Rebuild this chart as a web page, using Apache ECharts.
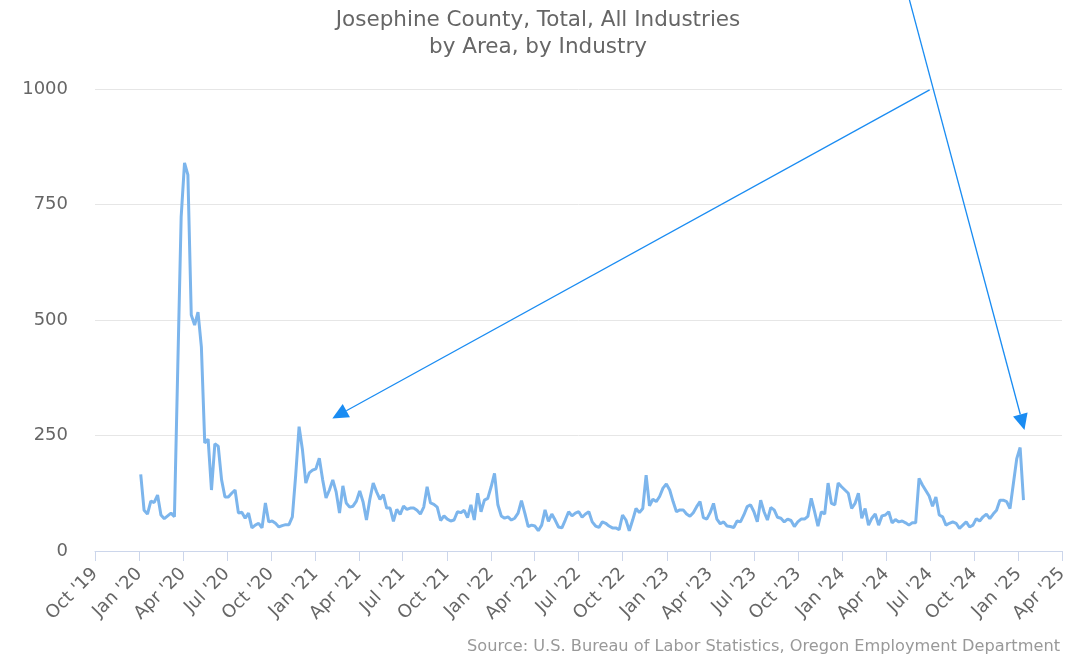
<!DOCTYPE html>
<html>
<head>
<meta charset="utf-8">
<script src="https://cdn.jsdelivr.net/npm/echarts@6/dist/echarts.min.js"></script>
<style>
html,body{margin:0;padding:0;background:#fff;}
#chart{width:1076px;height:657px;}
</style>
</head>
<body>
<div id="chart"></div>
<script>
// Weekly initial claims, first week ending 2020-01-04
const firstWeekEnding = '2020-01-04';
const claims2020a = [166, 88, 80, 108, 105, 121, 78, 70, 76, 82, 74, 400, 723, 840, 814, 511, 489, 517, 442, 234, 242, 132, 232, 227, 154, 117, 117, 125, 132, 82, 84, 71, 82, 50, 56, 60, 50, 104, 63, 65, 60, 52, 55];
const claims2020b = [57, 57, 74, 165, 269, 219, 147, 169, 175, 178, 201, 154, 115, 132, 154, 128, 82, 141, 104, 95, 97, 108, 130, 106, 67, 112, 147, 128, 112, 122, 93, 93, 64, 90, 79, 97, 90, 93, 93, 88, 80, 95, 139, 104, 101, 95, 66];
const claims2021 = [76, 69, 65, 67, 85, 83, 88, 72, 100, 67, 125, 85, 110, 114, 139, 168, 100, 76, 71, 74, 67, 71, 82, 109, 82, 53, 56, 54, 44, 56, 89, 64, 80, 67, 52, 50, 67, 85, 76, 82, 85, 73, 80, 85];
const claims2022 = [63, 54, 51, 63, 60, 54, 50, 50, 46, 78, 67, 44, 67, 92, 83, 92, 164, 98, 112, 107, 118, 136, 145, 132, 107, 85, 89, 89, 80, 75, 83, 96, 107, 72, 69, 83, 103, 69, 59, 63, 54, 53, 51, 65, 63];
const claims2023 = [78, 96, 100, 85, 63, 110, 85, 67, 94, 89, 73, 71, 63, 69, 66, 53, 63, 69, 69, 75, 114, 85, 54, 85, 80, 147, 103, 100, 147, 139, 132, 125, 92, 103, 125, 71, 92, 56, 71, 80, 56, 76, 78, 85];
const claims2024 = [61, 68, 63, 65, 61, 56, 61, 61, 157, 143, 131, 119, 97, 117, 78, 74, 56, 60, 63, 60, 49, 56, 63, 52, 56, 70, 65, 74, 80, 70, 80, 88, 110, 110, 107, 92, 146, 200, 224, 110];

const tickDates = ['2019-10-01','2020-01-01','2020-04-01','2020-07-01','2020-10-01','2021-01-01','2021-04-01','2021-07-01','2021-10-01','2022-01-01','2022-04-01','2022-07-01','2022-10-01','2023-01-01','2023-04-01','2023-07-01','2023-10-01','2024-01-01','2024-04-01','2024-07-01','2024-10-01','2025-01-01','2025-04-01'];
const yTicks = [0, 250, 500, 750, 1000];
const monthNames = ['Jan','Feb','Mar','Apr','May','Jun','Jul','Aug','Sep','Oct','Nov','Dec'];

const titleText = 'Josephine County, Total, All Industries\nby Area, by Industry';
const sourceText = 'Source: U.S. Bureau of Labor Statistics, Oregon Employment Department';

// annotation arrows in data coordinates: [fromDate, fromValue, toDate, toValue]
const arrows = [
  ['2024-06-30', 998, '2021-02-05', 287],
  ['2024-05-19', 1193, '2025-01-13', 262]
];

function parseDate(s) {
  const p = s.split('-').map(Number);
  return new Date(p[0], p[1] - 1, p[2]).getTime();
}

const allClaims = [].concat(claims2020a, claims2020b, claims2021, claims2022, claims2023, claims2024);
const fp = firstWeekEnding.split('-').map(Number);
const seriesData = allClaims.map((v, i) => [new Date(fp[0], fp[1] - 1, fp[2] + 7 * i).getTime(), v]);
const tickValues = tickDates.map(parseDate);

const FONT = 'DejaVu Sans';
const chart = echarts.init(document.getElementById('chart'));
chart.setOption({
  animation: false,
  backgroundColor: '#ffffff',
  title: {
    text: titleText,
    left: 'center',
    top: 2,
    textStyle: { fontFamily: FONT, fontSize: 21.5, fontWeight: 'normal', color: '#666666', lineHeight: 27 }
  },
  grid: { left: 95, right: 14, top: 89, bottom: 106 },
  xAxis: {
    type: 'value',
    min: tickValues[0],
    max: tickValues[tickValues.length - 1],
    axisLine: { show: true, lineStyle: { color: '#ccd6eb', width: 1 } },
    axisTick: { show: true, length: 10, lineStyle: { color: '#ccd6eb' }, customValues: tickValues },
    splitLine: { show: false },
    axisLabel: {
      customValues: tickValues,
      rotate: 45,
      margin: 20,
      fontFamily: FONT,
      fontSize: 18,
      color: '#666666',
      hideOverlap: false,
      formatter: function (val) {
        const d = new Date(val);
        return monthNames[d.getMonth()] + " '" + String(d.getFullYear()).slice(2);
      }
    }
  },
  yAxis: {
    type: 'value',
    min: yTicks[0],
    max: yTicks[yTicks.length - 1],
    interval: yTicks[1] - yTicks[0],
    axisLine: { show: false },
    axisTick: { show: false },
    splitLine: { lineStyle: { color: '#e6e6e6', width: 1 } },
    axisLabel: { fontFamily: FONT, fontSize: 18, color: '#666666', margin: 27, formatter: v => String(v) }
  },
  series: [{
    type: 'line',
    data: seriesData,
    showSymbol: false,
    smooth: false,
    lineStyle: { color: '#7cb5ec', width: 3 },
    itemStyle: { color: '#7cb5ec' },
    clip: false
  }]
});

const graphics = [{
  type: 'text',
  right: 16,
  bottom: 2,
  style: { text: sourceText, font: '16.2px "DejaVu Sans"', fill: '#999999' }
}];
arrows.forEach(a => {
  const p0 = chart.convertToPixel({ gridIndex: 0 }, [parseDate(a[0]), a[1]]);
  const p1 = chart.convertToPixel({ gridIndex: 0 }, [parseDate(a[2]), a[3]]);
  const dx = p1[0] - p0[0], dy = p1[1] - p0[1];
  const len = Math.sqrt(dx * dx + dy * dy);
  const ux = dx / len, uy = dy / len;
  const headLen = 16, halfW = 7.5;
  const bx = p1[0] - ux * headLen, by = p1[1] - uy * headLen;
  graphics.push({
    type: 'line',
    shape: { x1: p0[0], y1: p0[1], x2: bx, y2: by },
    style: { stroke: '#1a8cf2', lineWidth: 1.3 },
    z: 100
  });
  graphics.push({
    type: 'polygon',
    shape: { points: [[p1[0], p1[1]], [bx - uy * halfW, by + ux * halfW], [bx + uy * halfW, by - ux * halfW]] },
    style: { fill: '#1a8cf2' },
    z: 100
  });
});
chart.setOption({ graphic: graphics });
</script>
</body>
</html>
